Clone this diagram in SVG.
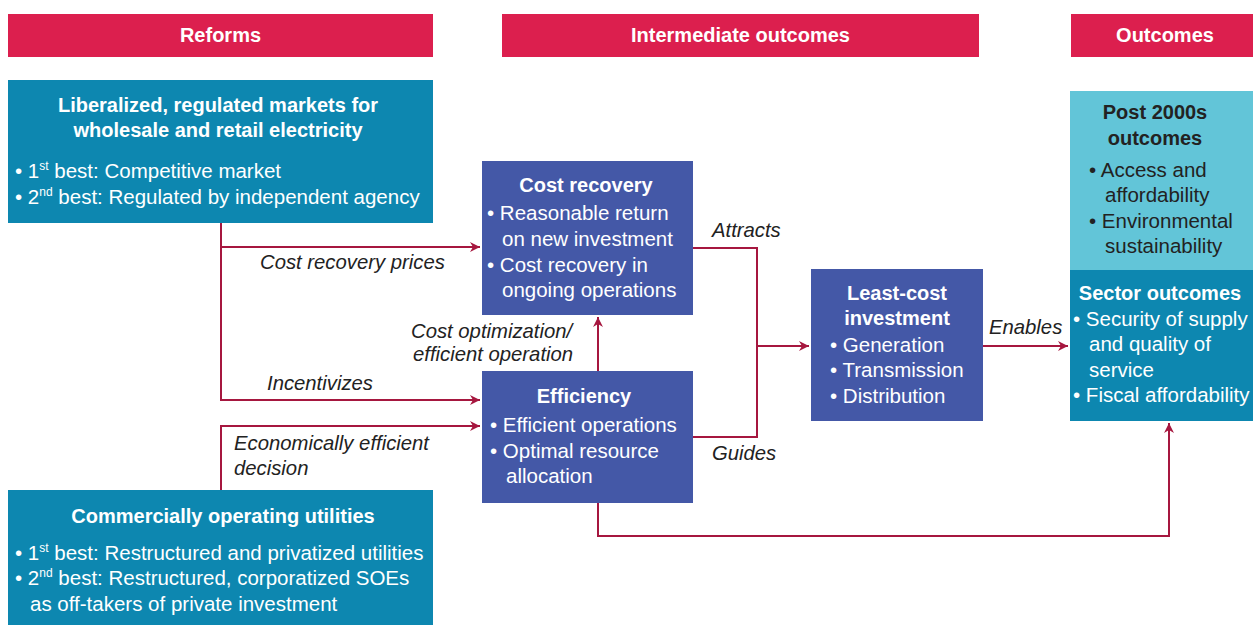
<svg xmlns="http://www.w3.org/2000/svg" width="1253" height="625" viewBox="0 0 1253 625">
<style>
.hdr{fill:#DC1F4E}
.ht{font-family:"Liberation Sans",Arial,sans-serif;font-size:20px;font-weight:bold;fill:#fff;text-anchor:middle}
.teal{fill:#0D87B0}
.blue{fill:#4458A7}
.light{fill:#62C5D8}
.tt{font-family:"Liberation Sans",Arial,sans-serif;font-size:20px;font-weight:bold;fill:#fff;text-anchor:middle}
.bt{font-family:"Liberation Sans",Arial,sans-serif;font-size:20.5px;fill:#fff}
.dk{fill:#222}
.lbl{font-family:"Liberation Sans",Arial,sans-serif;font-size:20.3px;font-style:italic;fill:#222}
.sup{font-size:12px}
.c{fill:none;stroke:#A6173F;stroke-width:2}
</style>
<defs>
<marker id="ah" viewBox="0 0 10 10" refX="10" refY="5" markerWidth="10" markerHeight="10" markerUnits="userSpaceOnUse" orient="auto">
<path d="M0,0 L10,5 L0,10 L3,5 z" fill="#A6173F"/>
</marker>
</defs>
<rect width="1253" height="625" fill="#fff"/>

<g id="header-reforms"><rect class="hdr" x="8" y="14" width="425" height="43"/><text class="ht" x="220.5" y="42">Reforms</text></g>
<g id="header-intermediate"><rect class="hdr" x="502" y="14" width="477" height="43"/><text class="ht" x="740.5" y="42">Intermediate outcomes</text></g>
<g id="header-outcomes"><rect class="hdr" x="1071" y="14" width="182" height="43"/><text class="ht" x="1165" y="42">Outcomes</text></g>

<g id="connectors">
<path class="c" d="M221,223 V400 H480" marker-end="url(#ah)"/>
<path class="c" d="M221,247 H480" marker-end="url(#ah)"/>
<path class="c" d="M221,490 V426 H480" marker-end="url(#ah)"/>
<path class="c" d="M598,371 V317" marker-end="url(#ah)"/>
<path class="c" d="M693,248 H757 V437 H693"/>
<path class="c" d="M757,346 H809" marker-end="url(#ah)"/>
<path class="c" d="M983,346 H1068" marker-end="url(#ah)"/>
<path class="c" d="M598,503 V536 H1169 V423" marker-end="url(#ah)"/>
<text class="lbl" x="260" y="269">Cost recovery prices</text>
<text class="lbl" x="267" y="390">Incentivizes</text>
<text class="lbl" x="234" y="450">Economically efficient</text>
<text class="lbl" x="234" y="475">decision</text>
<text class="lbl" x="411" y="338">Cost optimization/</text>
<text class="lbl" x="413" y="361">efficient operation</text>
<text class="lbl" x="712" y="237">Attracts</text>
<text class="lbl" x="712" y="460">Guides</text>
<text class="lbl" x="989" y="334">Enables</text>
</g>

<g id="liberalized-markets">
<rect class="teal" x="8" y="80" width="425" height="143"/>
<text class="tt" x="218" y="112">Liberalized, regulated markets for</text>
<text class="tt" x="218" y="137">wholesale and retail electricity</text>
<text class="bt" x="15" y="178">• 1<tspan class="sup" dy="-8">st</tspan><tspan dy="8"> best: Competitive market</tspan></text>
<text class="bt" x="15" y="204">• 2<tspan class="sup" dy="-8">nd</tspan><tspan dy="8"> best: Regulated by independent agency</tspan></text>
</g>

<g id="commercial-utilities">
<rect class="teal" x="8" y="490" width="425" height="135"/>
<text class="tt" x="223" y="523">Commercially operating utilities</text>
<text class="bt" x="15" y="560">• 1<tspan class="sup" dy="-8">st</tspan><tspan dy="8"> best: Restructured and privatized utilities</tspan></text>
<text class="bt" x="15" y="585">• 2<tspan class="sup" dy="-8">nd</tspan><tspan dy="8"> best: Restructured, corporatized SOEs</tspan></text>
<text class="bt" x="30" y="611">as off-takers of private investment</text>
</g>

<g id="cost-recovery">
<rect class="blue" x="482" y="161" width="211" height="154"/>
<text class="tt" x="586" y="192">Cost recovery</text>
<text class="bt" x="487" y="220">• Reasonable return</text>
<text class="bt" x="502" y="246">on new investment</text>
<text class="bt" x="487" y="272">• Cost recovery in</text>
<text class="bt" x="502" y="297">ongoing operations</text>
</g>

<g id="efficiency">
<rect class="blue" x="482" y="371" width="211" height="132"/>
<text class="tt" x="584" y="403">Efficiency</text>
<text class="bt" x="490" y="432">• Efficient operations</text>
<text class="bt" x="490" y="458">• Optimal resource</text>
<text class="bt" x="506" y="483">allocation</text>
</g>

<g id="least-cost">
<rect class="blue" x="811" y="269" width="172" height="152"/>
<text class="tt" x="897" y="300">Least-cost</text>
<text class="tt" x="897" y="325">investment</text>
<text class="bt" x="830" y="352">• Generation</text>
<text class="bt" x="830" y="377">• Transmission</text>
<text class="bt" x="830" y="403">• Distribution</text>
</g>

<g id="post-2000s">
<rect class="light" x="1070" y="91" width="183" height="179"/>
<text class="tt dk" x="1155" y="119">Post 2000s</text>
<text class="tt dk" x="1155" y="145">outcomes</text>
<text class="bt dk" x="1089" y="177">• Access and</text>
<text class="bt dk" x="1105" y="202">affordability</text>
<text class="bt dk" x="1089" y="228">• Environmental</text>
<text class="bt dk" x="1105" y="253">sustainability</text>
</g>

<g id="sector-outcomes">
<rect class="teal" x="1070" y="270" width="183" height="151"/>
<text class="tt" x="1160" y="300">Sector outcomes</text>
<text class="bt" x="1073" y="326">• Security of supply</text>
<text class="bt" x="1089" y="351">and quality of</text>
<text class="bt" x="1089" y="377">service</text>
<text class="bt" x="1073" y="402">• Fiscal affordability</text>
</g>
</svg>
